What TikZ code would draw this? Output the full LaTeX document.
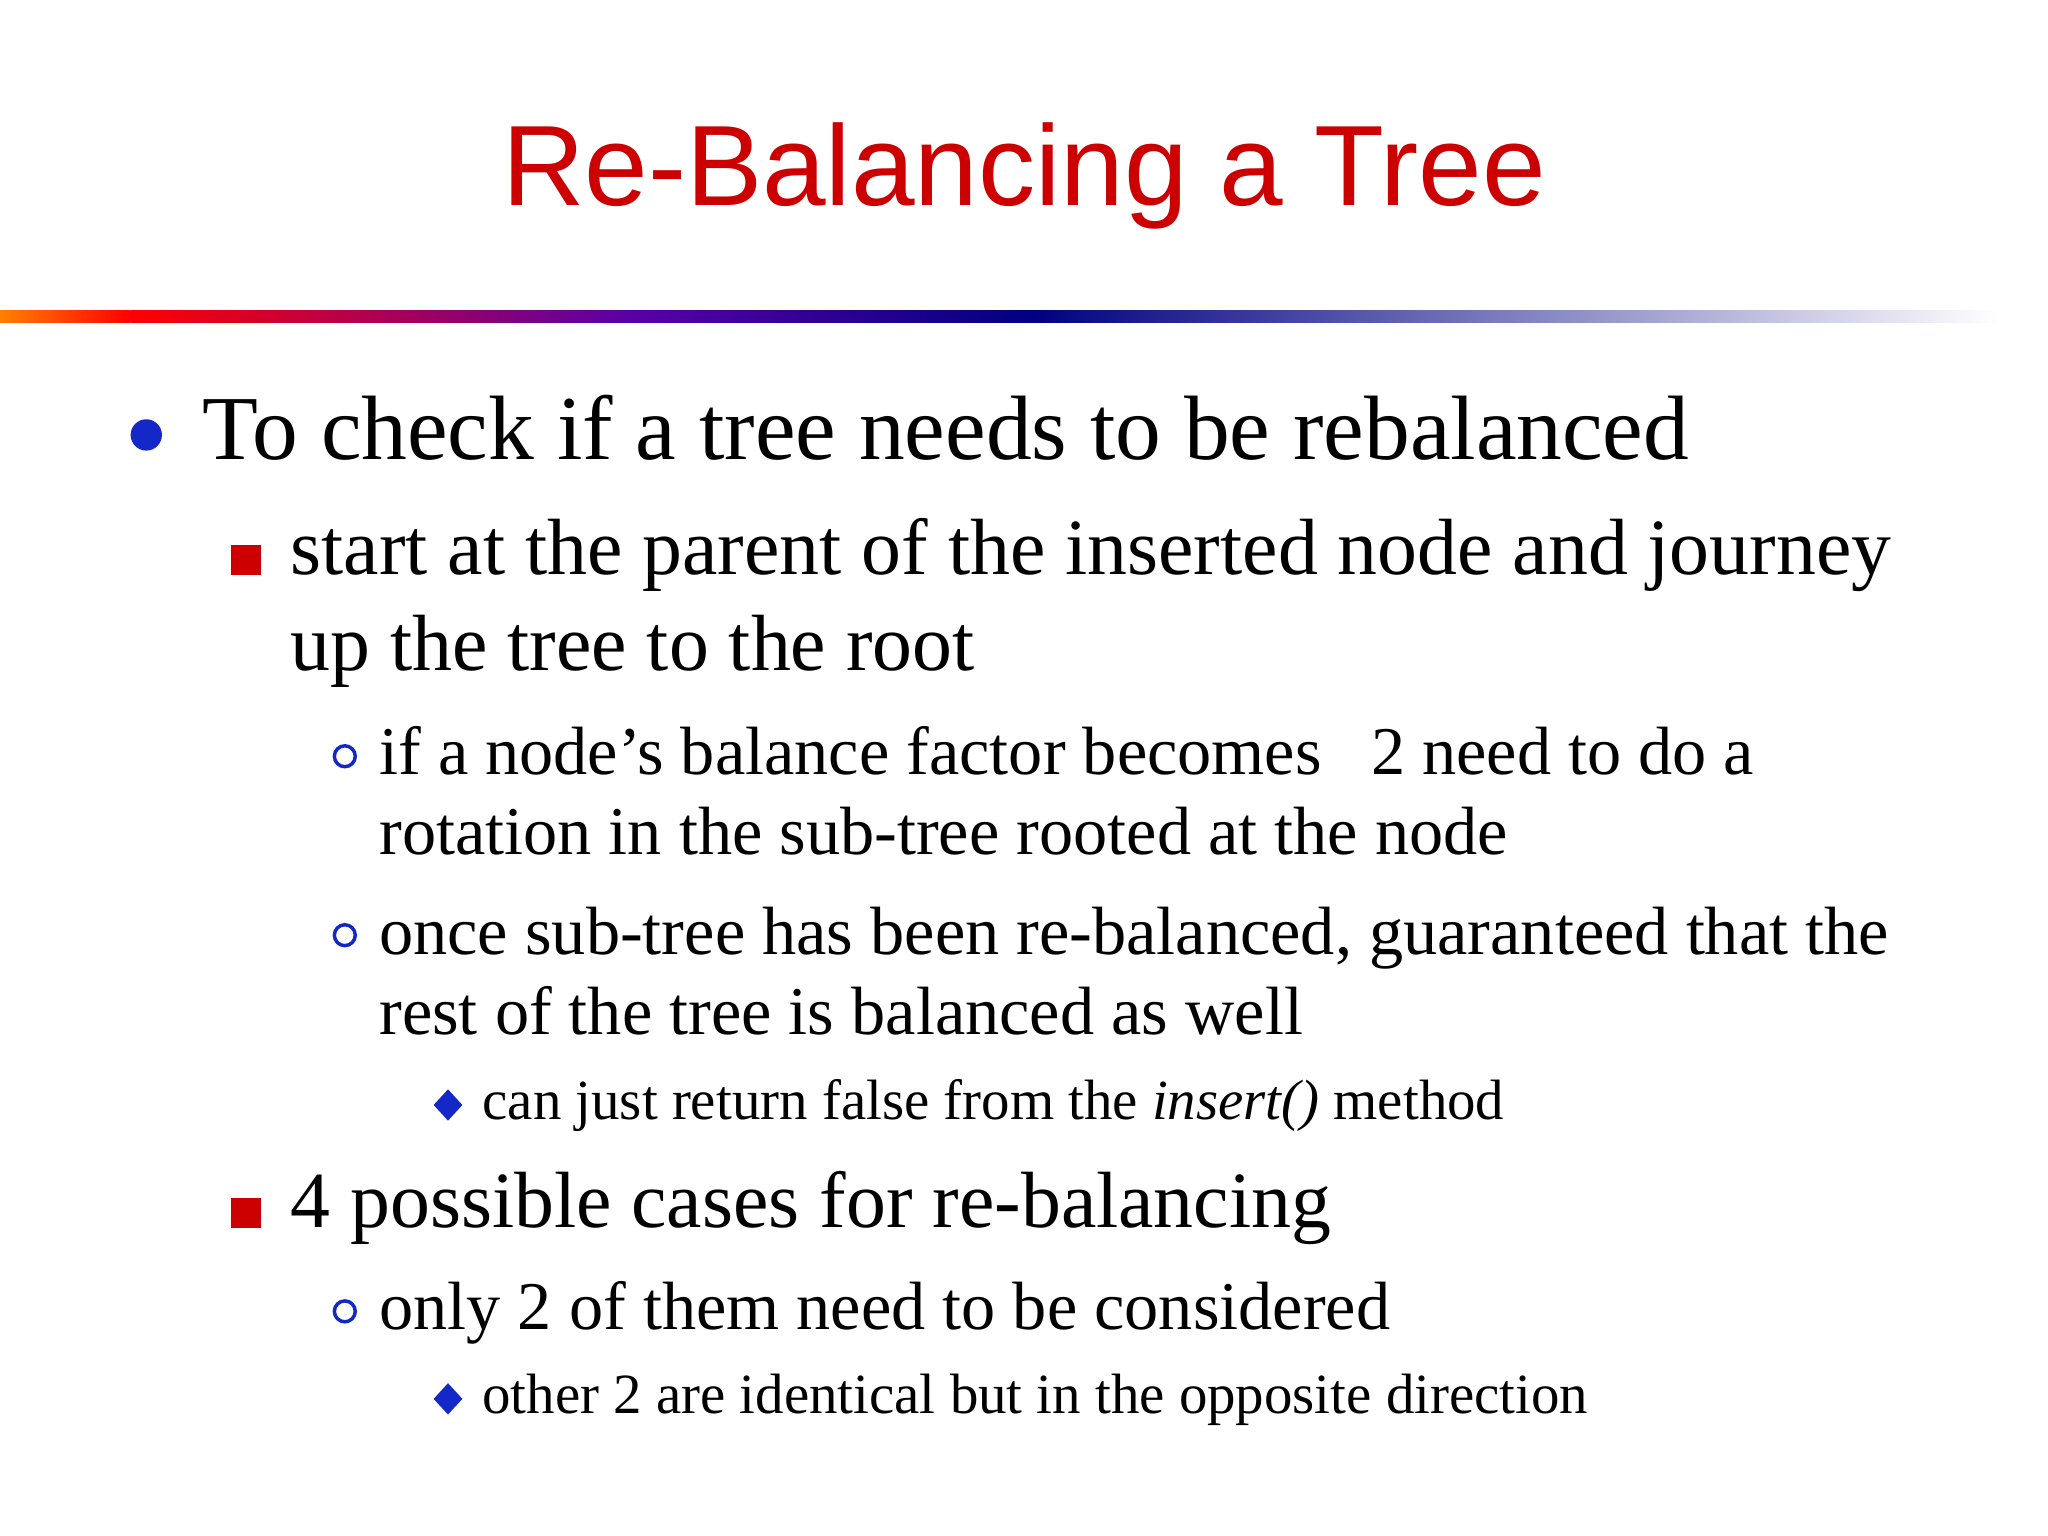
\documentclass[tikz,border=0pt]{standalone}
\usepackage{fontspec}
\setmainfont{Liberation Serif}
\newfontfamily\titlefont{Liberation Sans}
\begin{document}
\begin{tikzpicture}[x=0.01728cm,y=-0.01728cm,
  lone/.style={anchor=base west,inner sep=0pt,font=\fontsize{34.4}{40}\selectfont},
  ltwo/.style={anchor=base west,inner sep=0pt,font=\fontsize{30}{36}\selectfont},
  lthree/.style={anchor=base west,inner sep=0pt,font=\fontsize{25.7}{32}\selectfont},
  lfour/.style={anchor=base west,inner sep=0pt,font=\fontsize{21.4}{28}\selectfont}]
\useasboundingbox[fill=white] (0,0) rectangle (1568,1176);
\definecolor{tred}{RGB}{204,0,0}
\definecolor{bblue}{RGB}{20,40,200}
\node[anchor=base,inner sep=0pt,text=tred,font=\titlefont\fontsize{43}{50}\selectfont] (title) at (784,157) {Re-Balancing a Tree};
% gradient bar
\shade[left color=orange,right color=red] (0,238) rectangle (100,247);
\shade[left color=red,right color=violet!70!blue] (100,238) rectangle (480,247);
\shade[left color=violet!70!blue,right color=blue!50!black] (480,238) rectangle (790,247);
\shade[left color=blue!50!black,right color=white] (790,238) rectangle (1530,247);
% level 1
\fill[bblue] (112,333) circle (12);
\node[lone] (l1) at (155,352) {To check if a tree needs to be rebalanced};
% level 2
\fill[tred] (177,417) rectangle (200,440);
\node[ltwo] (l2a) at (222,440) {start at the parent of the inserted node and journey};
\node[ltwo] (l2b) at (222,513) {up the tree to the root};
\draw[bblue,line width=1.3pt] (264,579) circle (8);
\node[lthree] (l3a) at (290,593) {if a node’s balance factor becomes \hspace{0.47em}2 need to do a};
\node[lthree] (l3b) at (290,654) {rotation in the sub-tree rooted at the node};
\draw[bblue,line width=1.3pt] (264,716) circle (8);
\node[lthree] (l3c) at (290,731) {once sub-tree has been re-balanced, guaranteed that the};
\node[lthree] (l3d) at (290,792) {rest of the tree is balanced as well};
\fill[bblue] (343,834) -- (354,846) -- (343,858) -- (332,846) -- cycle;
\node[lfour] (l4a) at (369,857) {can just return false from the \textit{insert()} method};
\fill[tred] (177,917) rectangle (200,940);
\node[ltwo] (l2c) at (222,940) {4 possible cases for re-balancing};
\draw[bblue,line width=1.3pt] (264,1004) circle (8);
\node[lthree] (l3e) at (290,1018) {only 2 of them need to be considered};
\fill[bblue] (343,1059) -- (354,1071) -- (343,1083) -- (332,1071) -- cycle;
\node[lfour] (l4b) at (369,1082) {other 2 are identical but in the opposite direction};
\end{tikzpicture}
\end{document}
